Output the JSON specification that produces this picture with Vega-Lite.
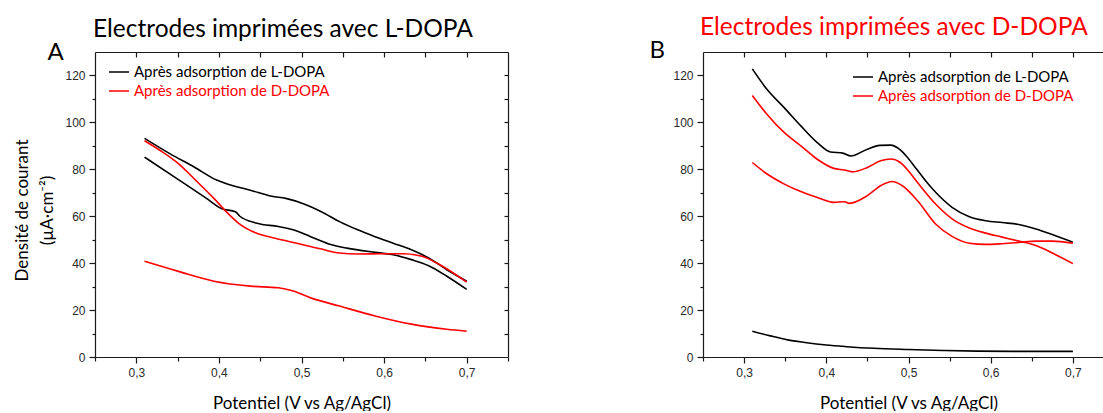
{
  "$schema": "https://vega.github.io/schema/vega-lite/v6.json",
  "background": "white",
  "padding": {"left": 13, "top": 14, "right": 0, "bottom": 0},
  "bounds": "flush",
  "spacing": 195,
  "config": {
    "view": {"stroke": null},
    "axis": {
      "grid": false,
      "domainColor": "#1a1a1a",
      "domainWidth": 1.2,
      "tickColor": "#1a1a1a",
      "tickWidth": 1.2,
      "labelFont": "Liberation Sans",
      "labelFontSize": 12,
      "labelColor": "#2a2a2a",
      "titleFont": "Lato",
      "titleFontWeight": "normal",
      "titleColor": "#000000",
      "titleFontSize": 17
    },
    "legend": {
      "labelFont": "Lato",
      "labelFontSize": 15,
      "labelLimit": 0
    }
  },
  "datasets": {
    "a": [
      {"s": "Après adsorption de L-DOPA", "r": 1, "x": 0.31, "y": 93.2},
      {"s": "Après adsorption de L-DOPA", "r": 1, "x": 0.341, "y": 86.6},
      {"s": "Après adsorption de L-DOPA", "r": 1, "x": 0.37, "y": 81.0},
      {"s": "Après adsorption de L-DOPA", "r": 1, "x": 0.398, "y": 75.3},
      {"s": "Après adsorption de L-DOPA", "r": 1, "x": 0.411, "y": 73.6},
      {"s": "Après adsorption de L-DOPA", "r": 1, "x": 0.438, "y": 71.1},
      {"s": "Après adsorption de L-DOPA", "r": 1, "x": 0.464, "y": 68.5},
      {"s": "Après adsorption de L-DOPA", "r": 1, "x": 0.481, "y": 67.6},
      {"s": "Après adsorption de L-DOPA", "r": 1, "x": 0.503, "y": 65.2},
      {"s": "Après adsorption de L-DOPA", "r": 1, "x": 0.524, "y": 61.9},
      {"s": "Après adsorption de L-DOPA", "r": 1, "x": 0.546, "y": 57.7},
      {"s": "Après adsorption de L-DOPA", "r": 1, "x": 0.568, "y": 54.2},
      {"s": "Après adsorption de L-DOPA", "r": 1, "x": 0.589, "y": 51.3},
      {"s": "Après adsorption de L-DOPA", "r": 1, "x": 0.611, "y": 48.5},
      {"s": "Après adsorption de L-DOPA", "r": 1, "x": 0.633, "y": 45.7},
      {"s": "Après adsorption de L-DOPA", "r": 1, "x": 0.654, "y": 42.2},
      {"s": "Après adsorption de L-DOPA", "r": 1, "x": 0.676, "y": 37.2},
      {"s": "Après adsorption de L-DOPA", "r": 1, "x": 0.7, "y": 32.3},
      {"s": "Après adsorption de L-DOPA", "r": 2, "x": 0.31, "y": 85.2},
      {"s": "Après adsorption de L-DOPA", "r": 2, "x": 0.351, "y": 75.6},
      {"s": "Après adsorption de L-DOPA", "r": 2, "x": 0.385, "y": 67.6},
      {"s": "Après adsorption de L-DOPA", "r": 2, "x": 0.403, "y": 63.3},
      {"s": "Après adsorption de L-DOPA", "r": 2, "x": 0.42, "y": 61.9},
      {"s": "Après adsorption de L-DOPA", "r": 2, "x": 0.425, "y": 60.1},
      {"s": "Après adsorption de L-DOPA", "r": 2, "x": 0.446, "y": 57.0},
      {"s": "Après adsorption de L-DOPA", "r": 2, "x": 0.472, "y": 55.6},
      {"s": "Après adsorption de L-DOPA", "r": 2, "x": 0.49, "y": 54.2},
      {"s": "Après adsorption de L-DOPA", "r": 2, "x": 0.511, "y": 51.3},
      {"s": "Après adsorption de L-DOPA", "r": 2, "x": 0.533, "y": 48.2},
      {"s": "Après adsorption de L-DOPA", "r": 2, "x": 0.555, "y": 46.4},
      {"s": "Après adsorption de L-DOPA", "r": 2, "x": 0.589, "y": 44.6},
      {"s": "Après adsorption de L-DOPA", "r": 2, "x": 0.611, "y": 43.6},
      {"s": "Après adsorption de L-DOPA", "r": 2, "x": 0.633, "y": 41.5},
      {"s": "Après adsorption de L-DOPA", "r": 2, "x": 0.654, "y": 38.9},
      {"s": "Après adsorption de L-DOPA", "r": 2, "x": 0.676, "y": 34.4},
      {"s": "Après adsorption de L-DOPA", "r": 2, "x": 0.7, "y": 28.8},
      {"s": "Après adsorption de D-DOPA", "r": 3, "x": 0.31, "y": 92.2},
      {"s": "Après adsorption de D-DOPA", "r": 3, "x": 0.329, "y": 88.0},
      {"s": "Après adsorption de D-DOPA", "r": 3, "x": 0.351, "y": 82.4},
      {"s": "Après adsorption de D-DOPA", "r": 3, "x": 0.372, "y": 75.3},
      {"s": "Après adsorption de D-DOPA", "r": 3, "x": 0.394, "y": 67.6},
      {"s": "Après adsorption de D-DOPA", "r": 3, "x": 0.411, "y": 61.2},
      {"s": "Après adsorption de D-DOPA", "r": 3, "x": 0.424, "y": 57.0},
      {"s": "Après adsorption de D-DOPA", "r": 3, "x": 0.446, "y": 52.7},
      {"s": "Après adsorption de D-DOPA", "r": 3, "x": 0.468, "y": 50.6},
      {"s": "Après adsorption de D-DOPA", "r": 3, "x": 0.498, "y": 48.2},
      {"s": "Après adsorption de D-DOPA", "r": 3, "x": 0.524, "y": 46.0},
      {"s": "Après adsorption de D-DOPA", "r": 3, "x": 0.546, "y": 44.3},
      {"s": "Après adsorption de D-DOPA", "r": 3, "x": 0.568, "y": 43.9},
      {"s": "Après adsorption de D-DOPA", "r": 3, "x": 0.598, "y": 44.0},
      {"s": "Après adsorption de D-DOPA", "r": 3, "x": 0.624, "y": 44.0},
      {"s": "Après adsorption de D-DOPA", "r": 3, "x": 0.646, "y": 42.9},
      {"s": "Après adsorption de D-DOPA", "r": 3, "x": 0.667, "y": 39.4},
      {"s": "Après adsorption de D-DOPA", "r": 3, "x": 0.7, "y": 31.9},
      {"s": "Après adsorption de D-DOPA", "r": 4, "x": 0.31, "y": 40.8},
      {"s": "Après adsorption de D-DOPA", "r": 4, "x": 0.351, "y": 36.5},
      {"s": "Après adsorption de D-DOPA", "r": 4, "x": 0.394, "y": 32.3},
      {"s": "Après adsorption de D-DOPA", "r": 4, "x": 0.438, "y": 30.2},
      {"s": "Après adsorption de D-DOPA", "r": 4, "x": 0.472, "y": 29.5},
      {"s": "Après adsorption de D-DOPA", "r": 4, "x": 0.49, "y": 28.1},
      {"s": "Après adsorption de D-DOPA", "r": 4, "x": 0.511, "y": 25.2},
      {"s": "Après adsorption de D-DOPA", "r": 4, "x": 0.546, "y": 21.7},
      {"s": "Après adsorption de D-DOPA", "r": 4, "x": 0.589, "y": 17.5},
      {"s": "Après adsorption de D-DOPA", "r": 4, "x": 0.633, "y": 14.0},
      {"s": "Après adsorption de D-DOPA", "r": 4, "x": 0.676, "y": 11.8},
      {"s": "Après adsorption de D-DOPA", "r": 4, "x": 0.7, "y": 11.0}
    ],
    "b": [
      {"s": "Après adsorption de L-DOPA", "r": 1, "x": 0.31, "y": 122.8},
      {"s": "Après adsorption de L-DOPA", "r": 1, "x": 0.328, "y": 114.0},
      {"s": "Après adsorption de L-DOPA", "r": 1, "x": 0.349, "y": 106.2},
      {"s": "Après adsorption de L-DOPA", "r": 1, "x": 0.369, "y": 98.5},
      {"s": "Après adsorption de L-DOPA", "r": 1, "x": 0.389, "y": 91.4},
      {"s": "Après adsorption de L-DOPA", "r": 1, "x": 0.405, "y": 87.4},
      {"s": "Après adsorption de L-DOPA", "r": 1, "x": 0.42, "y": 86.9},
      {"s": "Après adsorption de L-DOPA", "r": 1, "x": 0.43, "y": 85.7},
      {"s": "Après adsorption de L-DOPA", "r": 1, "x": 0.45, "y": 88.6},
      {"s": "Après adsorption de L-DOPA", "r": 1, "x": 0.465, "y": 90.2},
      {"s": "Après adsorption de L-DOPA", "r": 1, "x": 0.478, "y": 90.3},
      {"s": "Après adsorption de L-DOPA", "r": 1, "x": 0.49, "y": 88.3},
      {"s": "Après adsorption de L-DOPA", "r": 1, "x": 0.5, "y": 84.5},
      {"s": "Après adsorption de L-DOPA", "r": 1, "x": 0.51, "y": 80.0},
      {"s": "Après adsorption de L-DOPA", "r": 1, "x": 0.521, "y": 75.0},
      {"s": "Après adsorption de L-DOPA", "r": 1, "x": 0.533, "y": 70.2},
      {"s": "Après adsorption de L-DOPA", "r": 1, "x": 0.553, "y": 63.8},
      {"s": "Après adsorption de L-DOPA", "r": 1, "x": 0.574, "y": 59.8},
      {"s": "Après adsorption de L-DOPA", "r": 1, "x": 0.594, "y": 58.1},
      {"s": "Après adsorption de L-DOPA", "r": 1, "x": 0.614, "y": 57.3},
      {"s": "Après adsorption de L-DOPA", "r": 1, "x": 0.634, "y": 56.5},
      {"s": "Après adsorption de L-DOPA", "r": 1, "x": 0.655, "y": 54.6},
      {"s": "Après adsorption de L-DOPA", "r": 1, "x": 0.675, "y": 52.2},
      {"s": "Après adsorption de L-DOPA", "r": 1, "x": 0.7, "y": 48.9},
      {"s": "Après adsorption de L-DOPA", "r": 2, "x": 0.31, "y": 11.0},
      {"s": "Après adsorption de L-DOPA", "r": 2, "x": 0.332, "y": 9.0},
      {"s": "Après adsorption de L-DOPA", "r": 2, "x": 0.353, "y": 7.3},
      {"s": "Après adsorption de L-DOPA", "r": 2, "x": 0.374, "y": 6.2},
      {"s": "Après adsorption de L-DOPA", "r": 2, "x": 0.4, "y": 5.1},
      {"s": "Après adsorption de L-DOPA", "r": 2, "x": 0.425, "y": 4.4},
      {"s": "Après adsorption de L-DOPA", "r": 2, "x": 0.458, "y": 3.7},
      {"s": "Après adsorption de L-DOPA", "r": 2, "x": 0.5, "y": 3.2},
      {"s": "Après adsorption de L-DOPA", "r": 2, "x": 0.542, "y": 2.8},
      {"s": "Après adsorption de L-DOPA", "r": 2, "x": 0.584, "y": 2.5},
      {"s": "Après adsorption de L-DOPA", "r": 2, "x": 0.627, "y": 2.4},
      {"s": "Après adsorption de L-DOPA", "r": 2, "x": 0.7, "y": 2.4},
      {"s": "Après adsorption de D-DOPA", "r": 3, "x": 0.31, "y": 111.5},
      {"s": "Après adsorption de D-DOPA", "r": 3, "x": 0.328, "y": 103.4},
      {"s": "Après adsorption de D-DOPA", "r": 3, "x": 0.349, "y": 95.6},
      {"s": "Après adsorption de D-DOPA", "r": 3, "x": 0.369, "y": 90.0},
      {"s": "Après adsorption de D-DOPA", "r": 3, "x": 0.389, "y": 84.3},
      {"s": "Après adsorption de D-DOPA", "r": 3, "x": 0.409, "y": 80.4},
      {"s": "Après adsorption de D-DOPA", "r": 3, "x": 0.422, "y": 79.7},
      {"s": "Après adsorption de D-DOPA", "r": 3, "x": 0.432, "y": 78.9},
      {"s": "Après adsorption de D-DOPA", "r": 3, "x": 0.45, "y": 80.8},
      {"s": "Après adsorption de D-DOPA", "r": 3, "x": 0.466, "y": 83.6},
      {"s": "Après adsorption de D-DOPA", "r": 3, "x": 0.479, "y": 84.4},
      {"s": "Après adsorption de D-DOPA", "r": 3, "x": 0.49, "y": 82.9},
      {"s": "Après adsorption de D-DOPA", "r": 3, "x": 0.5, "y": 79.3},
      {"s": "Après adsorption de D-DOPA", "r": 3, "x": 0.511, "y": 74.4},
      {"s": "Après adsorption de D-DOPA", "r": 3, "x": 0.533, "y": 65.2},
      {"s": "Après adsorption de D-DOPA", "r": 3, "x": 0.553, "y": 58.9},
      {"s": "Après adsorption de D-DOPA", "r": 3, "x": 0.574, "y": 55.0},
      {"s": "Après adsorption de D-DOPA", "r": 3, "x": 0.594, "y": 52.8},
      {"s": "Après adsorption de D-DOPA", "r": 3, "x": 0.614, "y": 51.1},
      {"s": "Après adsorption de D-DOPA", "r": 3, "x": 0.634, "y": 49.4},
      {"s": "Après adsorption de D-DOPA", "r": 3, "x": 0.655, "y": 47.5},
      {"s": "Après adsorption de D-DOPA", "r": 3, "x": 0.675, "y": 44.3},
      {"s": "Après adsorption de D-DOPA", "r": 3, "x": 0.7, "y": 39.8},
      {"s": "Après adsorption de D-DOPA", "r": 4, "x": 0.31, "y": 82.9},
      {"s": "Après adsorption de D-DOPA", "r": 4, "x": 0.328, "y": 78.0},
      {"s": "Après adsorption de D-DOPA", "r": 4, "x": 0.349, "y": 73.7},
      {"s": "Après adsorption de D-DOPA", "r": 4, "x": 0.369, "y": 70.5},
      {"s": "Après adsorption de D-DOPA", "r": 4, "x": 0.389, "y": 68.0},
      {"s": "Après adsorption de D-DOPA", "r": 4, "x": 0.409, "y": 65.9},
      {"s": "Après adsorption de D-DOPA", "r": 4, "x": 0.422, "y": 66.2},
      {"s": "Après adsorption de D-DOPA", "r": 4, "x": 0.428, "y": 65.5},
      {"s": "Après adsorption de D-DOPA", "r": 4, "x": 0.45, "y": 68.8},
      {"s": "Après adsorption de D-DOPA", "r": 4, "x": 0.467, "y": 73.2},
      {"s": "Après adsorption de D-DOPA", "r": 4, "x": 0.48, "y": 74.8},
      {"s": "Après adsorption de D-DOPA", "r": 4, "x": 0.4925, "y": 73.0},
      {"s": "Après adsorption de D-DOPA", "r": 4, "x": 0.511, "y": 66.6},
      {"s": "Après adsorption de D-DOPA", "r": 4, "x": 0.533, "y": 56.7},
      {"s": "Après adsorption de D-DOPA", "r": 4, "x": 0.553, "y": 51.4},
      {"s": "Après adsorption de D-DOPA", "r": 4, "x": 0.574, "y": 48.5},
      {"s": "Après adsorption de D-DOPA", "r": 4, "x": 0.594, "y": 48.0},
      {"s": "Après adsorption de D-DOPA", "r": 4, "x": 0.614, "y": 48.3},
      {"s": "Après adsorption de D-DOPA", "r": 4, "x": 0.634, "y": 48.8},
      {"s": "Après adsorption de D-DOPA", "r": 4, "x": 0.655, "y": 49.4},
      {"s": "Après adsorption de D-DOPA", "r": 4, "x": 0.675, "y": 49.4},
      {"s": "Après adsorption de D-DOPA", "r": 4, "x": 0.7, "y": 48.5}
    ]
  },
  "resolve": {"scale": {"color": "independent"}, "legend": {"color": "independent"}},
  "hconcat": [
    {
      "width": 413,
      "height": 305,
      "data": {"name": "a"},
      "title": {"text": "Electrodes imprimées avec L-DOPA", "anchor": "start", "frame": "group", "dx": -2, "offset": -21, "baseline": "alphabetic", "font": "Lato", "fontSize": 24.5, "fontWeight": "normal", "color": "#000000"},
      "resolve": {"axis": {"x": "independent", "y": "independent"}},
      "layer": [
        {
          "mark": {"type": "line", "strokeWidth": 1.6, "interpolate": "monotone"},
          "encoding": {
            "x": {"field": "x", "type": "quantitative", "scale": {"domain": [0.25, 0.75], "nice": false, "zero": false},
              "axis": {"orient": "bottom", "values": [0.25, 0.3, 0.35, 0.4, 0.45, 0.5, 0.55, 0.6, 0.65, 0.7, 0.75],
                "labelExpr": "abs(datum.value*10 - round(datum.value*10)) < 0.001 ? replace(format(datum.value, '.1f'), '.', ',') : ''",
                "tickSize": {"condition": {"test": "abs(datum.value*10 - round(datum.value*10)) < 0.001", "value": 6}, "value": 4},
                "labelPadding": 4, "labelOverlap": false, "labelFlush": false,
                "title": "Potentiel (V vs Ag/AgCl)", "titlePadding": 17}},
            "y": {"field": "y", "type": "quantitative", "scale": {"domain": [0, 130], "nice": false, "zero": true},
              "axis": {"orient": "left", "values": [0, 10, 20, 30, 40, 50, 60, 70, 80, 90, 100, 110, 120],
                "labelExpr": "datum.value % 20 === 0 ? datum.label : ''",
                "tickSize": {"condition": {"test": "datum.value % 20 === 0", "value": 6}, "value": 3},
                "labelPadding": 4, "labelOverlap": false, "labelFlush": false,
                "title": ["Densité de courant", "(µA·cm⁻²)"], "titlePadding": 8, "titleLineHeight": 25, "titleY": 158}},
            "color": {"field": "s", "type": "nominal",
              "scale": {"domain": ["Après adsorption de L-DOPA", "Après adsorption de D-DOPA"], "range": ["#000000", "#ff0000"]},
              "legend": {"orient": "none", "legendX": 13, "legendY": 9, "title": null, "symbolType": "stroke", "symbolSize": 400, "symbolStrokeWidth": 1.5, "labelOffset": 4, "rowPadding": -2, "labelLimit": 0,
                "encode": {"labels": {"update": {"fill": {"signal": "datum.value === 'Après adsorption de D-DOPA' ? '#ff0000' : '#000000'"}}}}}},
            "detail": {"field": "r", "type": "nominal"}
          }
        },
        {
          "mark": {"type": "line", "opacity": 0},
          "encoding": {
            "x": {"field": "x", "type": "quantitative",
              "axis": {"orient": "top", "values": [0.3, 0.35, 0.4, 0.45, 0.5, 0.55, 0.6, 0.65, 0.7], "labels": false, "tickSize": -5,
                "title": "A", "titleX": -48, "titleY": 7, "titleAlign": "left", "titleBaseline": "alphabetic", "titleAngle": 0, "titleFontSize": 24, "titleFont": "Lato"}},
            "y": {"field": "y", "type": "quantitative",
              "axis": {"orient": "right", "values": [10, 20, 30, 40, 50, 60, 70, 80, 90, 100, 110, 120], "labels": false, "tickSize": -4, "title": null}},
            "detail": {"field": "r", "type": "nominal"}
          }
        }
      ]
    },
    {
      "width": 411,
      "height": 305,
      "data": {"name": "b"},
      "title": {"text": "Electrodes imprimées avec D-DOPA", "anchor": "start", "frame": "group", "dx": -3, "offset": -21, "baseline": "alphabetic", "font": "Lato", "fontSize": 24.5, "fontWeight": "normal", "color": "#ff0000"},
      "resolve": {"axis": {"x": "independent", "y": "independent"}},
      "layer": [
        {
          "mark": {"type": "line", "strokeWidth": 1.6, "interpolate": "monotone"},
          "encoding": {
            "x": {"field": "x", "type": "quantitative", "scale": {"domain": [0.25, 0.75], "nice": false, "zero": false},
              "axis": {"orient": "bottom", "values": [0.25, 0.3, 0.35, 0.4, 0.45, 0.5, 0.55, 0.6, 0.65, 0.7, 0.75],
                "labelExpr": "abs(datum.value*10 - round(datum.value*10)) < 0.001 ? replace(format(datum.value, '.1f'), '.', ',') : ''",
                "tickSize": {"condition": {"test": "abs(datum.value*10 - round(datum.value*10)) < 0.001", "value": 6}, "value": 4},
                "labelPadding": 4, "labelOverlap": false, "labelFlush": false,
                "title": "Potentiel (V vs Ag/AgCl)", "titlePadding": 17}},
            "y": {"field": "y", "type": "quantitative", "scale": {"domain": [0, 130], "nice": false, "zero": true},
              "axis": {"orient": "left", "values": [0, 10, 20, 30, 40, 50, 60, 70, 80, 90, 100, 110, 120],
                "labelExpr": "datum.value % 20 === 0 ? datum.label : ''",
                "tickSize": {"condition": {"test": "datum.value % 20 === 0", "value": 6}, "value": 3},
                "labelPadding": 4, "labelOverlap": false, "labelFlush": false,
                "title": null}},
            "color": {"field": "s", "type": "nominal",
              "scale": {"domain": ["Après adsorption de L-DOPA", "Après adsorption de D-DOPA"], "range": ["#000000", "#ff0000"]},
              "legend": {"orient": "none", "legendX": 149, "legendY": 14, "title": null, "symbolType": "stroke", "symbolSize": 400, "symbolStrokeWidth": 1.5, "labelOffset": 4, "rowPadding": -2, "labelLimit": 0,
                "encode": {"labels": {"update": {"fill": {"signal": "datum.value === 'Après adsorption de D-DOPA' ? '#ff0000' : '#000000'"}}}}}},
            "detail": {"field": "r", "type": "nominal"}
          }
        },
        {
          "mark": {"type": "line", "opacity": 0},
          "encoding": {
            "x": {"field": "x", "type": "quantitative",
              "axis": {"orient": "top", "values": [0.3, 0.35, 0.4, 0.45, 0.5, 0.55, 0.6, 0.65, 0.7], "labels": false, "tickSize": -5,
                "title": "B", "titleX": -54, "titleY": 5, "titleAlign": "left", "titleBaseline": "alphabetic", "titleAngle": 0, "titleFontSize": 24, "titleFont": "Lato"}},
            "y": {"field": "y", "type": "quantitative",
              "axis": {"orient": "right", "values": [10, 20, 30, 40, 50, 60, 70, 80, 90, 100, 110, 120], "labels": false, "tickSize": -4, "title": null}},
            "detail": {"field": "r", "type": "nominal"}
          }
        }
      ]
    }
  ]
}
